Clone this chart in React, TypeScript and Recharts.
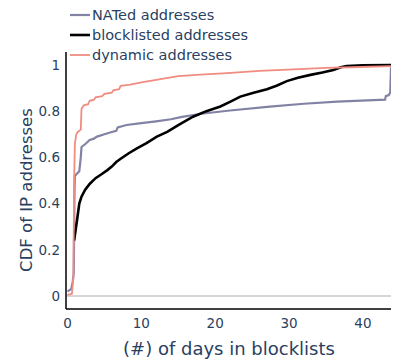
import { Line, LineChart, ReferenceLine, XAxis, YAxis } from "recharts";

const FONT = "'DejaVu Sans', Verdana, sans-serif";
const TEXT = "#2a3f5f";

const xTicks = [0, 10, 20, 30, 40];
const yTicks = [0, 0.2, 0.4, 0.6, 0.8, 1];

// points: [days, cdf]
const natedPts = [
  [0, 0.02], [0.5, 0.03], [0.7, 0.06], [0.85, 0.1], [0.95, 0.45], [1.0, 0.52],
  [1.3, 0.53], [1.6, 0.54], [1.8, 0.6], [1.9, 0.645], [2.5, 0.66], [3.0, 0.675],
  [3.5, 0.68], [4.0, 0.69], [5.0, 0.7], [6.0, 0.71], [6.6, 0.715], [6.8, 0.73],
  [8, 0.74], [10, 0.748], [12, 0.756], [14, 0.765], [15.5, 0.775], [18.4, 0.79],
  [22, 0.803], [27.4, 0.82], [32, 0.832], [36.5, 0.841], [43.0, 0.85],
  [43.1, 0.865], [43.5, 0.87], [43.7, 0.88], [43.8, 0.99],
];

const blockPts = [
  [0.9, 0.24], [1.3, 0.33], [1.6, 0.4], [1.9, 0.43], [2.4, 0.46], [3.0, 0.485],
  [3.8, 0.51], [4.6, 0.527], [5.4, 0.545], [6.0, 0.56], [6.6, 0.58], [7.3, 0.596],
  [8.3, 0.618], [9.4, 0.639], [10.7, 0.662], [12.1, 0.69], [13.5, 0.71],
  [15.0, 0.74], [17.0, 0.776], [18.8, 0.8], [20.7, 0.82], [22.0, 0.84],
  [23.4, 0.863], [25.2, 0.88], [27.0, 0.895], [28.3, 0.91], [29.7, 0.93],
  [31.2, 0.945], [32.9, 0.957], [34.5, 0.967], [36.0, 0.978], [37.0, 0.99],
  [37.8, 0.995], [40, 0.998], [43.8, 1.0],
];

const dynamicPts = [
  [0, 0.005], [0.6, 0.01], [0.8, 0.08], [0.9, 0.5], [1.0, 0.66], [1.2, 0.7],
  [1.4, 0.71], [1.8, 0.72], [1.9, 0.81], [2.2, 0.825], [2.8, 0.83], [3.0, 0.845],
  [3.6, 0.85], [3.8, 0.86], [4.7, 0.865], [5.0, 0.875], [6.0, 0.88], [6.2, 0.89],
  [7.0, 0.895], [7.2, 0.91], [8.5, 0.915], [10, 0.925], [12, 0.935], [15, 0.952],
  [18, 0.958], [21.6, 0.965], [26, 0.974], [30.6, 0.981], [35, 0.987],
  [39.6, 0.991], [43.8, 0.995],
];

const toRows = (pts: number[][]) => pts.map(([x, y]) => ({ x, y }));

const series = [
  { name: "NATed addresses", color: "#8282a4", width: 2.2, data: toRows(natedPts) },
  { name: "blocklisted addresses", color: "#000000", width: 2.6, data: toRows(blockPts) },
  { name: "dynamic addresses", color: "#f08c80", width: 1.8, data: toRows(dynamicPts) },
];

export default function App() {
  return (
    <div style={{ position: "absolute", left: 0, top: 0, width: 393, height: 362, background: "#fff" }}>
      <LineChart
        width={393}
        height={362}
        margin={{ top: 52, right: 2, bottom: 0, left: 0 }}
      >
        <XAxis
          dataKey="x"
          type="number"
          domain={[-0.2, 43.8]}
          ticks={xTicks}
          allowDataOverflow
          height={53}
          tickSize={0}
          tickMargin={9}
          axisLine={{ stroke: "#000", strokeWidth: 1.5 }}
          tick={{ fill: TEXT, fontSize: 13.5, fontFamily: FONT }}
        />
        <YAxis
          type="number"
          domain={[-0.056, 1.056]}
          ticks={yTicks}
          allowDataOverflow
          width={66}
          tickSize={0}
          tickMargin={6}
          axisLine={{ stroke: "#000", strokeWidth: 1.5 }}
          tick={{ fill: TEXT, fontSize: 13.5, fontFamily: FONT }}
        />
        <ReferenceLine y={0} stroke="#c8c8c8" strokeWidth={1.5} />
        {series.map((s) => (
          <Line
            key={s.name}
            data={s.data}
            dataKey="y"
            name={s.name}
            type="linear"
            stroke={s.color}
            strokeWidth={s.width}
            dot={false}
            activeDot={false}
            isAnimationActive={false}
          />
        ))}
      </LineChart>
      <svg
        width={393}
        height={362}
        style={{ position: "absolute", left: 0, top: 0, pointerEvents: "none" }}
      >
        {series.map((s, i) => (
          <g key={s.name}>
            <line x1={70} x2={90} y1={15 + i * 20} y2={15 + i * 20} stroke={s.color} strokeWidth={s.width} />
            <text x={92} y={15 + i * 20} dy="0.35em" fill={TEXT} fontSize={14.5} fontFamily={FONT}>
              {s.name}
            </text>
          </g>
        ))}
        <text
          x={229}
          y={355}
          textAnchor="middle"
          fill={TEXT}
          fontSize={18}
          fontFamily={FONT}
        >
          (#) of days in blocklists
        </text>
        <text
          transform="translate(32,190) rotate(-90)"
          textAnchor="middle"
          fill={TEXT}
          fontSize={16.5}
          fontFamily={FONT}
        >
          CDF of IP addresses
        </text>
      </svg>
    </div>
  );
}
